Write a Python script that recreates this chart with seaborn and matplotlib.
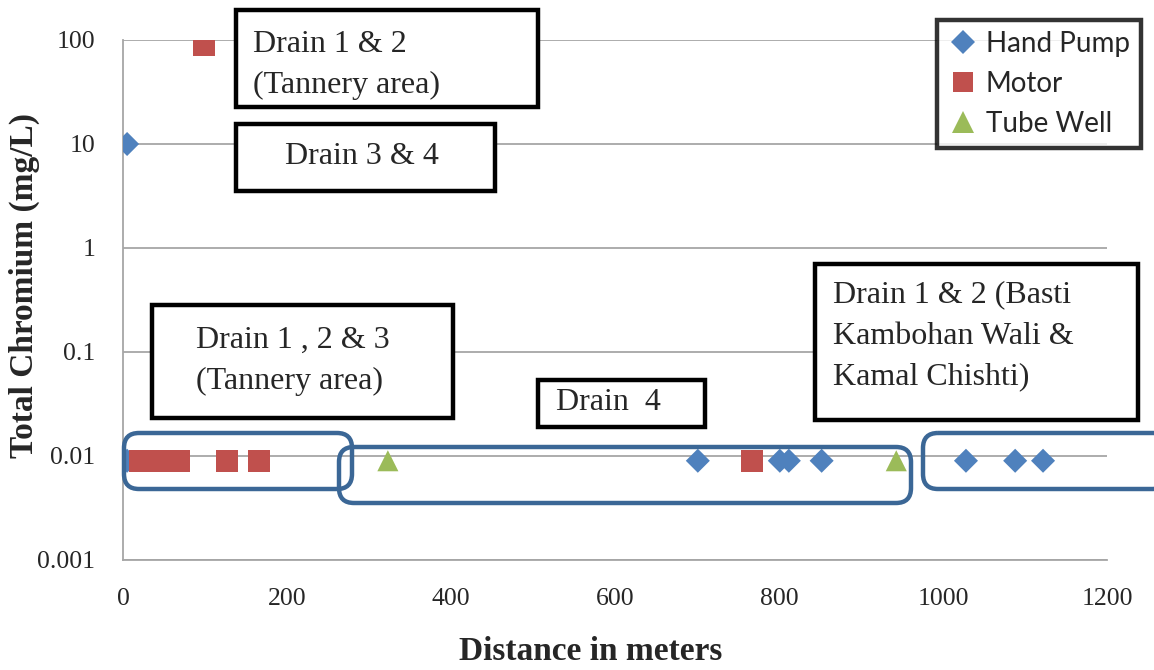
import matplotlib
matplotlib.use("Agg")
import matplotlib.pyplot as plt
from matplotlib.patches import Rectangle, FancyBboxPatch
from matplotlib.transforms import Affine2D
from matplotlib.lines import Line2D
import seaborn as sns
import pandas as pd

# Sampling sites: distance from drain (m) and total chromium (mg/L)
hand_pump_dist = [5, 5, 701, 801, 812, 852, 1028, 1088, 1122]
hand_pump_cr = [10, 0.009, 0.009, 0.009, 0.009, 0.009, 0.009, 0.009, 0.009]
motor_dist = [99, 21, 33, 45, 57, 68, 127, 166, 767]
motor_cr = [90, 0.009, 0.009, 0.009, 0.009, 0.009, 0.009, 0.009, 0.009]
tube_well_dist = [323, 943]
tube_well_cr = [0.009, 0.009]

sources = ["Hand Pump", "Motor", "Tube Well"]
colors = ["#4F81BD", "#C0504D", "#9BBB59"]
markers = ["D", "s", "^"]
sizes = [150, 260, 230]

df = pd.concat([
    pd.DataFrame({"dist": hand_pump_dist, "cr": hand_pump_cr, "source": sources[0]}),
    pd.DataFrame({"dist": motor_dist, "cr": motor_cr, "source": sources[1]}),
    pd.DataFrame({"dist": tube_well_dist, "cr": tube_well_cr, "source": sources[2]}),
], ignore_index=True)

sns.set_style("white")
W, H = 1154, 670
fig = plt.figure(figsize=(W / 100, H / 100), dpi=100)
ax = fig.add_axes([123 / W, 1 - 560 / H, (1107 - 123) / W, (560 - 40) / H])

for src, col, mk, sz in zip(sources, colors, markers, sizes):
    sub = df[df["source"] == src]
    sns.scatterplot(data=sub, x="dist", y="cr", ax=ax, color=col, marker=mk,
                    s=sz, edgecolor="none", linewidth=0, zorder=3, legend=False)

ax.set_yscale("log")
ax.set_ylim(0.001, 100)
ax.set_xlim(0, 1200)
ax.set_xticks(range(0, 1201, 200))
ax.set_yticks([0.001, 0.01, 0.1, 1, 10, 100])
ax.set_yticklabels(["0.001", "0.01", "0.1", "1", "10", "100"])
ax.minorticks_off()
ax.yaxis.grid(True, color="#A6A6A6", linewidth=1.3)
ax.set_axisbelow(True)
for s in ["top", "right"]:
    ax.spines[s].set_visible(False)
for s in ["left", "bottom"]:
    ax.spines[s].set_color("#A6A6A6")
    ax.spines[s].set_linewidth(1.3)
ax.tick_params(length=0, labelsize=18.5)
ax.tick_params(axis="x", pad=20)
ax.tick_params(axis="y", pad=20)
for lab in ax.get_xticklabels() + ax.get_yticklabels():
    lab.set_family("Liberation Serif")
ax.set_xlabel("")
ax.set_ylabel("")

# pixel coordinates with origin at top-left of the figure
px = Affine2D().scale(1, -1).translate(0, H)

fig.text(591, 652, "Distance in meters", transform=px, ha="center", va="center",
         family="Liberation Serif", fontsize=24, fontweight="bold")
fig.text(24, 285, "Total Chromium (mg/L)", transform=px, ha="center", va="center",
         rotation=90, family="Liberation Serif", fontsize=24, fontweight="bold")


def text_box(x0, y0, x1, y1, lines, tx, ty, ha="left", step=41):
    fig.patches.append(Rectangle((x0, y0), x1 - x0, y1 - y0, transform=px,
                                 fill=True, facecolor="white", edgecolor="black",
                                 linewidth=3.2, zorder=5))
    for i, line in enumerate(lines):
        fig.text(tx, ty + i * step, line, transform=px, ha=ha, va="center",
                 family="Liberation Serif", fontsize=23, zorder=6)


def round_box(x0, y0, x1, y1):
    fig.patches.append(FancyBboxPatch((x0, y0), x1 - x0, y1 - y0,
                                      boxstyle="round,pad=0,rounding_size=15",
                                      transform=px, fill=False,
                                      edgecolor="#3B6796", linewidth=3.2, zorder=4))


text_box(236, 10, 538, 107, ["Drain 1 & 2", "(Tannery area)"], 253, 45, step=40)
text_box(236, 124, 495, 191, ["Drain 3 & 4"], 362, 157, ha="center")
text_box(152, 305, 453, 418, ["Drain 1 , 2 & 3", "(Tannery area)"], 196, 340)
text_box(538, 380, 705, 427, ["Drain  4"], 556, 403)
text_box(815, 264, 1138, 420, ["Drain 1 & 2 (Basti", "Kambohan Wali &", "Kamal Chishti)"],
         833, 295)

round_box(124, 433, 352, 489)
round_box(339, 447, 911, 503)
round_box(923, 433, 1168, 489)

handles = [Line2D([], [], linestyle="none", marker=m, color=c,
                  markersize=ms, markeredgewidth=0)
           for m, c, ms in zip(markers, colors, [12, 15, 16])]
leg = ax.legend(handles, sources, loc="upper left",
                bbox_to_anchor=(937 / W, 1 - 20 / H), bbox_transform=fig.transFigure,
                prop={"family": "Lato", "size": 20}, frameon=True, fancybox=False,
                handletextpad=0.25, handlelength=1.1, borderpad=0.4, labelspacing=0.5,
                borderaxespad=0)
leg.get_frame().set_edgecolor("black")
leg.get_frame().set_linewidth(3.2)
leg.set_zorder(7)

fig.savefig("out.png", dpi=100)
